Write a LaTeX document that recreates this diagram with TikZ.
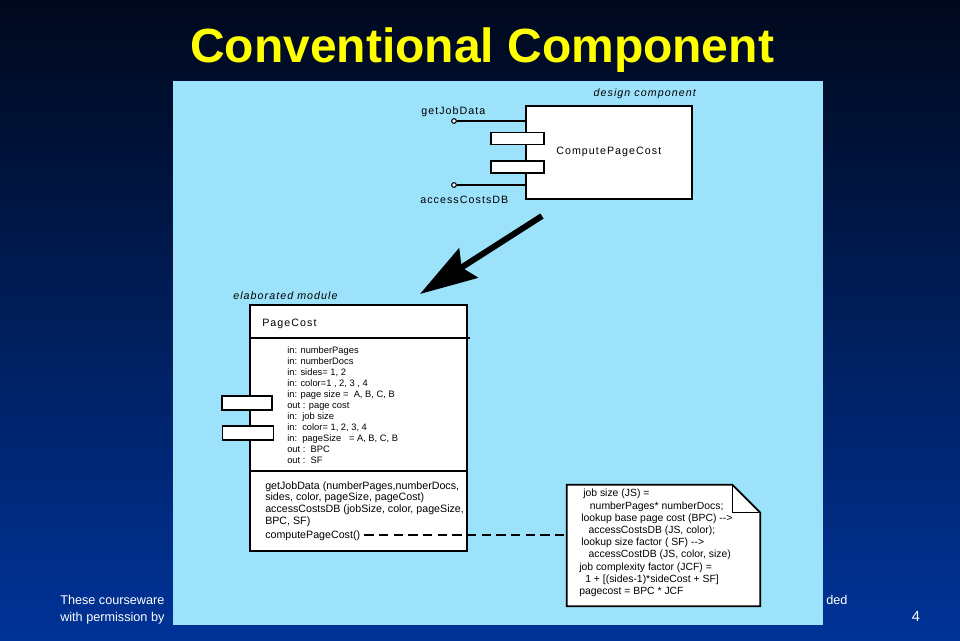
\documentclass[tikz,border=0pt]{standalone}
\usepackage{fontspec}
\setmainfont{Liberation Sans}
\newfontfamily\diagfont[LetterSpace=10]{Liberation Sans}
\usetikzlibrary{arrows.meta,positioning}
\definecolor{bgtop}{RGB}{0,8,28}
\definecolor{bgmid}{RGB}{0,40,118}
\definecolor{bgbot}{RGB}{0,51,152}
\definecolor{panel}{RGB}{155,226,250}
\definecolor{titleyellow}{RGB}{255,255,0}
\tikzstyle{box} = [draw, fill=white, line width=1.2pt, inner sep=0pt]
\tikzstyle{lbl} = [font=\diagfont\fontsize{8}{9.6}\selectfont, inner sep=0pt]

\begin{document}
\begin{tikzpicture}[x=0.75pt,y=-0.75pt]
\tikzset{
  port/.style={box, line width=1pt},
  lolly/.style={circle, draw, fill=white, inner sep=0pt, minimum size=3.5pt, line width=0.8pt},
  attr/.style={font=\fontsize{7}{8.3}\selectfont, align=left, inner sep=0pt},
  meth/.style={font=\fontsize{8}{8.75}\selectfont, align=left, inner sep=0pt},
  foot/.style={font=\fontsize{9.5}{12}\selectfont, text=white, inner sep=0pt}
}
\useasboundingbox (0,0) rectangle (960,640);
\shade[top color=bgtop, middle color=bgmid, bottom color=bgbot] (0,0) rectangle (960,640);

% title
\node[font=\bfseries\fontsize{36}{40}\selectfont, text=titleyellow, anchor=base] (title) at (482,62) {Conventional Component};

% footer
\node[foot, anchor=base west] (foot1) at (60,604) {These courseware};
\node[foot, anchor=base west] (foot2) at (60,621) {with permission by};
\node[foot, anchor=base west] (foot3) at (826,604) {ded};
\node[foot, font=\fontsize{11}{13}\selectfont, anchor=base] (pageno) at (916,621) {4};

\fill[panel] (173,81) rectangle (823,625);

% design component
\node[lbl, font=\diagfont\itshape\fontsize{8}{9.6}\selectfont, anchor=base east] (designlbl) at (696,96) {design component};
\node[lolly] (gjd) at (454,121) {};
\node[lolly] (acd) at (454,185) {};
\node[box, minimum width=124.5pt, minimum height=69.75pt] (comp) at (609,152.5) {};
\draw[line width=1.1pt] (gjd) -- (gjd -| comp.west);
\draw[line width=1.1pt] (acd) -- (acd -| comp.west);
\node[port, minimum width=39.75pt, minimum height=9pt] (cport1) at (517.5,138.5) {};
\node[port, minimum width=39.75pt, minimum height=9pt] (cport2) at (517.5,167) {};
\node[lbl, anchor=west] (compname) at (556,152) {ComputePageCost};
\node[lbl, anchor=base west] (gjdlbl) at (421,114) {getJobData};
\node[lbl, anchor=base west] (acdlbl) at (420,203) {accessCostsDB};

% elaboration arrow
\coordinate (arrS) at (542,216);
\coordinate (arrE) at (420,294);
\draw[line width=4.5pt, -{Stealth[length=43pt,width=26pt,inset=6pt]}] (arrS) -- (arrE);

% elaborated module
\node[lbl, font=\diagfont\itshape\fontsize{8}{9.6}\selectfont, anchor=base west] (modlbl) at (233,299) {elaborated module};
\node[box, minimum width=162.75pt, minimum height=184.5pt] (mod) at (358.5,428) {};
\draw[line width=1.2pt] ([yshift=-25.5pt]mod.north west) -- ([xshift=1.5pt,yshift=-25.5pt]mod.north east);
\draw[line width=1.2pt] ([yshift=-125.25pt]mod.north west) -- ([yshift=-125.25pt]mod.north east);
\node[port, minimum width=37.5pt, minimum height=10.5pt] (mport1) at (247,403) {};
\node[port, minimum width=38pt, minimum height=10.5pt] (mport2) at (248,433) {};
\node[lbl, anchor=base west] (pcname) at (262,326) {PageCost};
\node[attr, anchor=north west] (attrs) at (287,346) {in: numberPages\\
in: numberDocs\\
in: sides= 1, 2\\
in: color=1 , 2, 3 , 4\\
in: page size =\ \ A, B, C, B\\
out : page cost\\
in:\ \ job size\\
in:\ \ color= 1, 2, 3, 4\\
in:\ \ pageSize\ \ \ = A, B, C, B\\
out :\ \ BPC\\
out :\ \ SF};
\node[meth, anchor=north west] (meths) at (265,481) {getJobData (numberPages,numberDocs,\\
sides, color, pageSize, pageCost)\\
accessCostsDB (jobSize, color, pageSize,\\
BPC, SF)};
\node[meth, anchor=base west] (mcost) at (265,538) {computePageCost()};

% note
\node[minimum width=144.75pt, minimum height=90.75pt, inner sep=0pt] (note) at (663.5,545.5) {};
\draw[line width=1.3pt, fill=white] (note.north west) -- ([xshift=-21pt]note.north east) -- ([yshift=-21pt]note.north east) -- (note.south east) -- (note.south west) -- cycle;
\draw[line width=1pt] ([xshift=-21pt]note.north east) -- ([xshift=-21pt,yshift=-21pt]note.north east) -- ([yshift=-21pt]note.north east);
\node[meth, font=\fontsize{7.8}{9.15}\selectfont, anchor=north west] (notetext) at (579,489) {\hspace*{3pt}job size (JS) =\\
\hspace*{8pt}numberPages* numberDocs;\\
\hspace*{1.5pt}lookup base page cost (BPC) -{}->\\
\hspace*{7pt}accessCostsDB (JS, color);\\
\hspace*{1.5pt}lookup size factor ( SF) -{}->\\
\hspace*{7pt}accessCostDB (JS, color, size)\\
job complexity factor (JCF) =\\
\hspace*{4.5pt}1 + [(sides-1)*sideCost + SF]\\
pagecost = BPC * JCF};

\draw[line width=1.6pt, dash pattern=on 7pt off 4pt] ([xshift=3pt]mcost.east) -- (mcost.east -| note.west);
\end{tikzpicture}
\end{document}
